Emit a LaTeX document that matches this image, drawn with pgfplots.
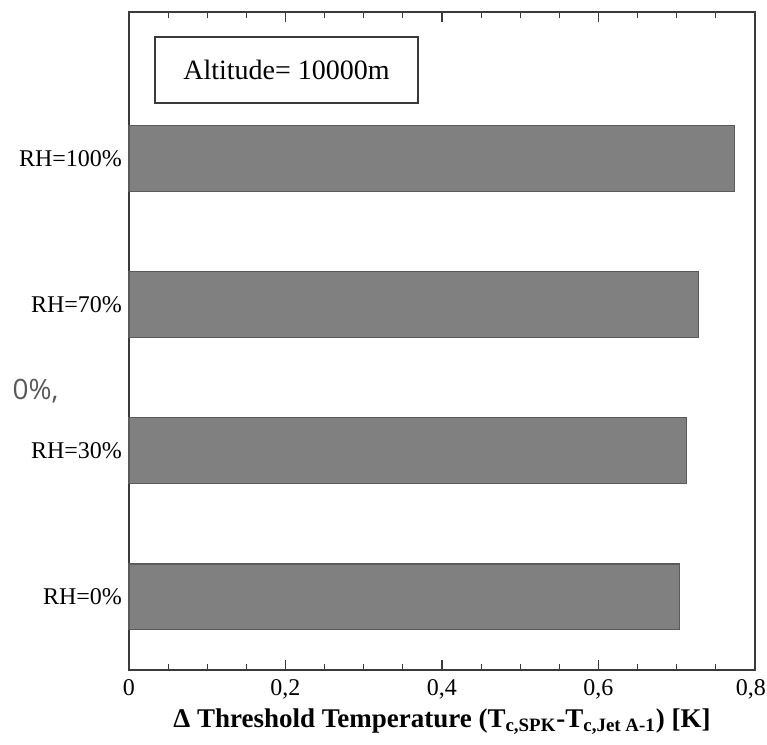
\documentclass[border=0pt]{standalone}
\usepackage{fontspec}
\setmainfont{Liberation Serif}
\newfontfamily\strayfont{Open Sans}
\usepackage{pgfplots}
\pgfplotsset{compat=1.18}
\definecolor{barfill}{HTML}{808080}
\definecolor{baredge}{HTML}{5A5A5A}
\definecolor{axcol}{HTML}{3A3A3A}
\begin{document}
\begin{tikzpicture}
\begin{axis}[
  scale only axis,
  width=313pt, height=329pt,
  xbar,
  bar width=0.45,
  xmin=0, xmax=0.8,
  ymin=-0.5, ymax=4.0,
  axis line style={axcol, line width=0.9pt},
  xtick={0,0.2,0.4,0.6,0.8},
  xticklabels={0,{0,2},{0,4},{0,6},{\hspace*{-4pt}0,8}},
  minor x tick num=3,
  tick align=inside,
  xtick pos=both,
  major tick length=5pt,
  minor tick length=3pt,
  tick style={axcol, line width=0.6pt},
  ytick={0,1,2,3},
  yticklabels={RH=0\%,RH=30\%,RH=70\%,RH=100\%},
  ytick style={draw=none},
  ticklabel style={font=\fontsize{12}{14}\selectfont},
  xticklabel style={yshift=-1pt},
  yticklabel style={xshift=0pt},
  xlabel={\textbf{Δ Threshold Temperature (T\textsubscript{c,SPK}-T\textsubscript{c,Jet A-1}) [K]}},
  xlabel style={font=\fontsize{13.5}{16}\selectfont, yshift=2pt},
  clip=false,
]
\addplot[fill=barfill, draw=baredge, line width=0.6pt] coordinates {
  (0.704,0) (0.712,1) (0.728,2) (0.774,3)
};
\end{axis}
\node[draw=axcol, line width=0.6pt, minimum width=131.5pt, minimum height=33pt, inner sep=0pt,
  font=\fontsize{14}{16}\selectfont] at (78.75pt,300pt) {Altitude= 10000m};
\node[text=black!65, font=\strayfont\fontsize{14}{16}\selectfont] at (-46.75pt,139.5pt) {0\%,};
\pgfresetboundingbox
\path[use as bounding box] (-64.5pt,-37.5pt) rectangle (319pt,335pt);
\end{tikzpicture}
\end{document}
